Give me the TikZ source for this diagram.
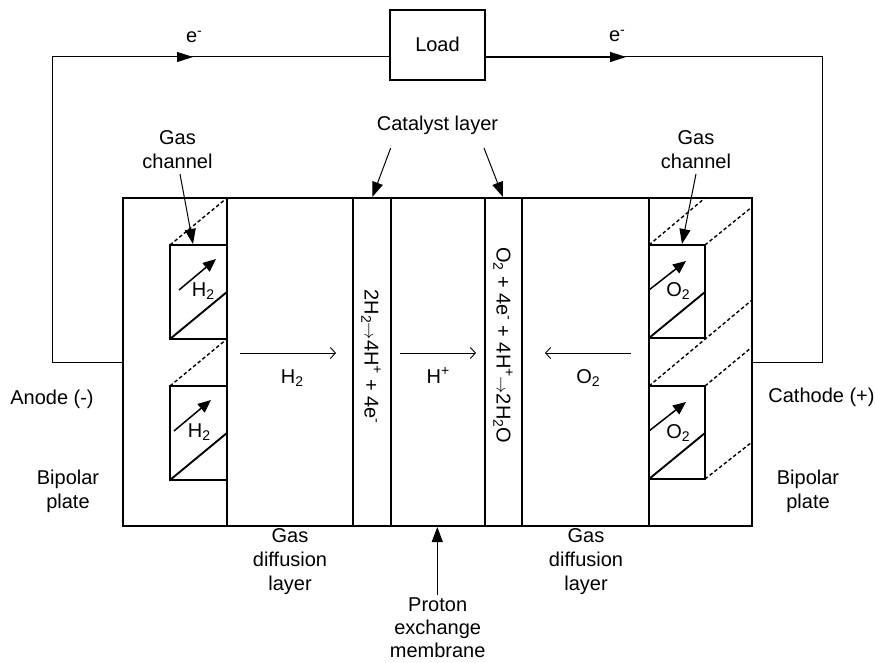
\documentclass[tikz,border=0pt]{standalone}
\usepackage{fontspec}
\setmainfont{Liberation Sans}
\usetikzlibrary{arrows.meta}
\tikzset{
  plate/.style={draw,line width=1.9pt},
  wire/.style={draw,line width=1pt},
  bigarrow/.style={draw,line width=1.5pt,-{Triangle[length=13pt,width=11pt]}},
  openarrow/.style={draw,line width=.9pt,-{Straight Barb[length=5pt,width=11pt,line width=.9pt]}},
  dashline/.style={draw,line width=1.4pt,dash pattern=on 3.5pt off 2.5pt},
  call/.style={draw,line width=1pt,-{Triangle[length=15pt,width=11pt]}},
  lab/.style={font=\fontsize{20}{24}\selectfont,align=center,inner sep=0pt},
  rlab/.style={lab,rotate=-90},
}
\newcommand{\lo}[1]{\raisebox{-.3ex}{\fontsize{14}{15}\selectfont #1}}
\newcommand{\hi}[1]{\raisebox{.75ex}{\fontsize{14}{15}\selectfont #1}}
\newcommand{\arr}{{\fontsize{18}{18}\selectfont$\rightarrow$}}
\begin{document}
\begin{tikzpicture}[x=1pt,y=-1pt]
\useasboundingbox (0,0) rectangle (875,663);
% layers
\node[plate,minimum width=629pt,minimum height=328pt,anchor=north west,inner sep=0pt,outer sep=0pt] (cell) at (123,198) {};
\foreach \n/\x in {a/226.9,b/353,c/390.9,d/485,e/522,f/649}{
  \coordinate (\n t) at (\x,198); \coordinate (\n b) at (\x,526);
  \draw[plate] (\n t) -- (\n b);
}
% left channels
\foreach \n/\y in {p/245,q/386}{
  \node[plate,minimum width=56.9pt,minimum height=94pt,anchor=north west,inner sep=0pt,outer sep=0pt] (\n) at (170,\y) {};
  \draw[plate] (\n.south west) -- ++(56.9,-47);
  \draw[dashline] (\n.north west) -- ++(56.9,-47);
}
\draw[bigarrow] (179,290) -- (216,259);
\draw[bigarrow] (174,431) -- (211,400);
\node[lab] (h2a) at (203,291) {H\lo{2}};
\node[lab] (h2b) at (199,432) {H\lo{2}};
% right channels
\foreach \n/\y in {r/245,s/386}{
  \node[plate,minimum width=56pt,minimum height=93pt,anchor=north west,inner sep=0pt,outer sep=0pt] (\n) at (649,\y) {};
  \draw[plate] (\n.south west) -- ++(56,-46);
}
\coordinate (rt) at (705,198); \coordinate (r1) at (752,207);
\coordinate (r2) at (752,300); \coordinate (r3) at (752,347); \coordinate (r4) at (752,442);
\draw[dashline] (r.north west) -- (rt);
\draw[dashline] (r.north east) -- (r1);
\draw[dashline] (s.north west) -- (r2);
\draw[dashline] (s.north east) -- (r3);
\draw[dashline] (s.south east) -- (r4);
\draw[bigarrow] (649,290) -- (686,261);
\draw[bigarrow] (649,431) -- (686,402);
\node[lab] (o2a) at (678,291) {O\lo{2}};
\node[lab] (o2b) at (678,433) {O\lo{2}};
% flow arrows
\coordinate (f1a) at (240,353); \coordinate (f1b) at (336,353);
\coordinate (f2a) at (400,353); \coordinate (f2b) at (476,353);
\coordinate (f3a) at (631,353); \coordinate (f3b) at (545,353);
\draw[openarrow] (f1a) -- (f1b);
\draw[openarrow] (f2a) -- (f2b);
\draw[openarrow] (f3a) -- (f3b);
\node[lab] (h2f) at (292,378) {H\lo{2}};
\node[lab] (hp) at (438,375) {H\hi{+}};
\node[lab] (o2f) at (588,378) {O\lo{2}};
\node[rlab] (anr) at (371,356.5) {2H\lo{2}\arr 4H\hi{+} + 4e\hi{-}};
\node[rlab] (car) at (503,345) {O\lo{2} + 4e\hi{-} + 4H\hi{+}\arr 2H\lo{2}O};
% circuit
\node[plate,minimum width=95pt,minimum height=70pt,anchor=north west,inner sep=0pt,outer sep=0pt] (load) at (390,10) {};
\node[lab] (loadt) at (437.5,44.5) {Load};
\coordinate (w1) at (52,57); \coordinate (w2) at (52,362); \coordinate (w3) at (123,362);
\coordinate (w4) at (822,57); \coordinate (w5) at (822,362); \coordinate (w6) at (752,362);
\coordinate (lw) at (390,57); \coordinate (le) at (485,57);
\coordinate (m1) at (193,57); \coordinate (m2) at (626,57);
\draw[wire] (w3) -- (w2) -- (w1) -- (lw);
\draw[wire] (le) -- (w4) -- (w5) -- (w6);
\draw[wire,-{Triangle[length=16pt,width=10pt]}] (w1) -- (m1);
\draw[wire,line width=1.5pt,-{Triangle[length=16pt,width=10pt]}] (le) -- (m2);
\node[lab] (e1) at (194,37) {e\hi{-}};
\node[lab] (e2) at (617,36) {e\hi{-}};
% labels
\node[lab] (gc1) at (177.5,150) {Gas\\channel};
\node[lab] (gc2) at (696,150) {Gas\\channel};
\node[lab] (cat) at (437.5,125.5) {Catalyst layer};
\node[lab] (an) at (52,399) {Anode (-)};
\node[lab] (ca) at (821.5,397) {Cathode (+)};
\node[lab] (bp1) at (68,491) {Bipolar\\plate};
\node[lab] (bp2) at (808,491) {Bipolar\\plate};
\node[lab] (gd1) at (290,562) {Gas\\diffusion\\layer};
\node[lab] (gd2) at (586,562) {Gas\\diffusion\\layer};
\node[lab,font=\fontsize{20}{23}\selectfont] (pem) at (437.7,628) {Proton\\exchange\\membrane};
% callouts
\coordinate (c1) at (193,244); \coordinate (c2) at (682,244);
\coordinate (c3) at (372.3,197); \coordinate (c4) at (503,197); \coordinate (c5) at (437.3,527);
\coordinate (s1) at (180,174); \coordinate (s2) at (696,174);
\coordinate (s3) at (390.7,148); \coordinate (s4) at (484,148); \coordinate (s5) at (437.3,595);
\draw[call] (s1) -- (c1);
\draw[call] (s2) -- (c2);
\draw[call] (s3) -- (c3);
\draw[call] (s4) -- (c4);
\draw[call] (s5) -- (c5);
\end{tikzpicture}
\end{document}
